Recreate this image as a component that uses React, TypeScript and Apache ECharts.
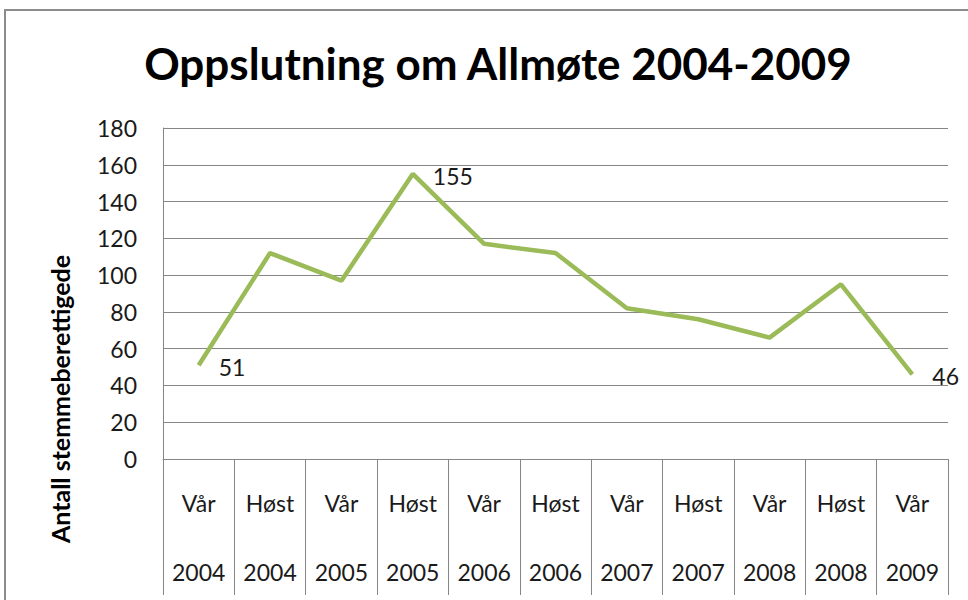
import React, { useEffect, useRef } from "react";
import * as echarts from "echarts";

const seasons = ["Vår", "Høst", "Vår", "Høst", "Vår", "Høst", "Vår", "Høst", "Vår", "Høst", "Vår"];
const years = ["2004", "2004", "2005", "2005", "2006", "2006", "2007", "2007", "2008", "2008", "2009"];
const values = [51, 112, 97, 155, 117, 112, 82, 76, 66, 95, 46];
const labelledIndices = [0, 3, 10];
const yTicks = { min: 0, max: 180, interval: 20 };

const FONT = "Lato";

export default function App() {
  const ref = useRef<HTMLDivElement>(null);
  useEffect(() => {
    if (!ref.current) return;
    const chart = echarts.init(ref.current, undefined, { renderer: "svg" });
    const categories = seasons.map((s, i) => `${s}\n\n${years[i]}`);
    chart.setOption({
      animation: false,
      backgroundColor: "#ffffff",
      title: {
        text: "Oppslutning om Allmøte 2004-2009",
        left: 493,
        textAlign: "center",
        top: 36,
        textStyle: { fontFamily: FONT, fontWeight: "bold", fontSize: 44, color: "#000" },
      },
      grid: { left: 163, right: 20, top: 128, bottom: 141 },
      graphic: [
        {
          type: "rect",
          shape: { x: 5, y: 10, width: 1000, height: 700 },
          style: { fill: "none", stroke: "#8c8c8c", lineWidth: 2 },
          silent: true,
        },
        {
          type: "text",
          x: 60,
          y: 399,
          rotation: Math.PI / 2,
          style: {
            text: "Antall stemmeberettigede",
            fontFamily: FONT,
            fontWeight: "bold",
            fontSize: 25,
            fill: "#000",
            textAlign: "center",
            textVerticalAlign: "middle",
          },
        },
      ],
      xAxis: {
        type: "category",
        data: categories,
        boundaryGap: true,
        axisLine: { show: true, lineStyle: { color: "#868686", width: 1 } },
        axisTick: { show: true, interval: 0, length: 136, lineStyle: { color: "#868686", width: 1 } },
        axisLabel: {
          interval: 0,
          margin: 27,
          fontFamily: FONT,
          fontSize: 23,
          lineHeight: 34.5,
          color: "#1a1a1a",
        },
        splitLine: { show: false },
      },
      yAxis: {
        type: "value",
        min: yTicks.min,
        max: yTicks.max,
        interval: yTicks.interval,
        axisLine: { show: true, lineStyle: { color: "#868686", width: 1 } },
        axisTick: { show: false },
        axisLabel: { margin: 26, fontFamily: FONT, fontSize: 23, color: "#1a1a1a" },
        splitLine: { show: true, lineStyle: { color: "#868686", width: 1 } },
      },
      series: [
        {
          type: "line",
          data: values.map((v, i) => ({
            value: v,
            label: {
              show: labelledIndices.includes(i),
              position: "right",
              distance: 20,
              offset: [0, 2],
              fontFamily: FONT,
              fontSize: 23,
              color: "#1a1a1a",
            },
          })),
          symbol: "circle",
          symbolSize: 0.1,
          showSymbol: true,
          itemStyle: { color: "#9BBB59" },
          lineStyle: { color: "#9BBB59", width: 4.5 },
        },
      ],
    });
    return () => chart.dispose();
  }, []);
  return (
    <div
      ref={ref}
      style={{ position: "fixed", left: 0, top: 0, width: 968, height: 600 }}
    />
  );
}
